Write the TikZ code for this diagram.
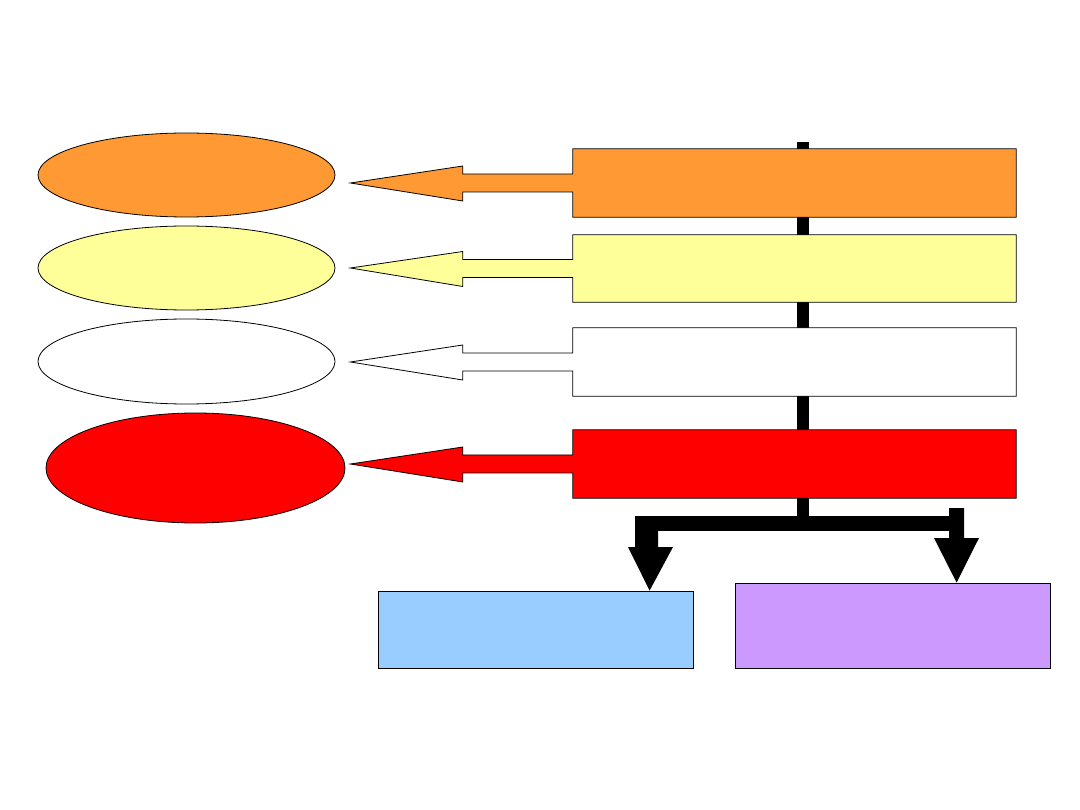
\documentclass[tikz,border=0pt]{standalone}
\usetikzlibrary{shapes.geometric,calc}
\definecolor{corange}{HTML}{FF9933}
\definecolor{cyellow}{HTML}{FFFF99}
\definecolor{cred}{HTML}{FF0000}
\definecolor{cblue}{HTML}{99CCFF}
\definecolor{cpurple}{HTML}{CC99FF}
\newcommand\sidearrow[3]{%
  \draw[outl, fill=#2] (#1.north west) -- (#1.north east) -- (#1.south east) -- (#1.south west)
    -- ($(#1.west)+(0,9)$) -- ($(#1.west)+(-110,9)$) -- ($(#1.west)+(-110,18)$) -- (#3)
    -- ($(#1.west)+(-110,-17)$) -- ($(#1.west)+(-110,-9)$) -- ($(#1.west)+(0,-9)$) -- cycle;}
\begin{document}
\begin{tikzpicture}[x=1pt,y=-1pt,
  outl/.style={draw=black, line width=0.8pt, line join=miter},
  box/.style={rectangle, inner sep=0pt, minimum width=443pt, minimum height=68pt},
  oval/.style={ellipse, draw=black, line width=0.8pt, inner sep=0pt},
  lowbox/.style={rectangle, draw=black, line width=0.8pt, inner sep=0pt, minimum width=315pt}]
\useasboundingbox (0,0) rectangle (1080,810);
% black spine
\fill[black] (797,142) rectangle (809,531);
% boxes (filled, outline drawn by arrow path)
\node[box] (r1) at (794.5,183) {};
\node[box, minimum height=67pt] (r2) at (794.5,268.5) {};
\node[box] (r3) at (794.5,362) {};
\node[box] (r4) at (794.5,464) {};
% ellipses
\node[oval, fill=corange, minimum width=297pt, minimum height=84pt] (e1) at (186.5,175) {};
\node[oval, fill=cyellow, minimum width=297pt, minimum height=84pt] (e2) at (186.5,268) {};
\node[oval, fill=white, minimum width=297pt, minimum height=85pt] (e3) at (186.5,361.5) {};
\node[oval, fill=cred, minimum width=299pt, minimum height=110pt] (e4) at (195.5,468) {};
% tips
\coordinate (t1) at ($(e1.east)+(15,8)$);
\coordinate (t2) at ($(e2.east)+(15,0)$);
\coordinate (t3) at ($(e3.east)+(15,0.5)$);
\coordinate (t4) at ($(e4.east)+(5,-4)$);
\sidearrow{r1}{corange}{t1}
\sidearrow{r2}{cyellow}{t2}
\sidearrow{r3}{white}{t3}
\sidearrow{r4}{cred}{t4}
% lower boxes
\node[lowbox, fill=cblue, minimum height=77pt] (b) at (535.5,629.5) {};
\node[lowbox, fill=cpurple, minimum height=85pt] (p) at (892.5,625.5) {};
\coordinate (tl) at ($(b.north west)+(272,0)$);
\coordinate (tr) at ($(p.north west)+(222,0)$);
% branching bar and arrows
\fill[black] (635,516) rectangle (963,531);
\fill[black] (635,516) -- (658,516) -- (658,547) -- (673,547) -- (tl) -- (628,547) -- (635,547) -- cycle;
\fill[black] (949,508) -- (964,508) -- (964,538) -- (979,538) -- (tr) -- (934,538) -- (949,538) -- cycle;
\end{tikzpicture}
\end{document}
